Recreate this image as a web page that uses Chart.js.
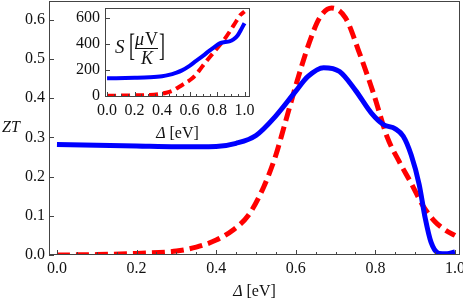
<!DOCTYPE html>
<html>
<head>
<meta charset="utf-8">
<script src="https://cdn.jsdelivr.net/npm/chart.js@4"></script>
<style>
  html, body { margin: 0; padding: 0; background: #fff; }
  #wrap { position: relative; width: 463px; height: 304px; overflow: hidden; }
  #mainChart { position: absolute; left: 0; top: 0; }
  #insetChart { position: absolute; left: 50px; top: 0; }
</style>
</head>
<body>
<div id="wrap">
  <canvas id="mainChart" width="463" height="304"></canvas>
  <canvas id="insetChart" width="205" height="145"></canvas>
</div>
<script>
// Main panel: ZT vs gap
const blueDelta = [0.00, 0.10, 0.20, 0.30, 0.40, 0.45, 0.50, 0.55, 0.60, 0.63, 0.67, 0.71, 0.75, 0.79, 0.82, 0.85, 0.87, 0.89, 0.91, 0.925, 0.94, 0.96, 0.98, 1.00];
const blueZT    = [0.282, 0.280, 0.278, 0.276, 0.277, 0.285, 0.305, 0.355, 0.418, 0.455, 0.478, 0.468, 0.420, 0.362, 0.333, 0.322, 0.303, 0.255, 0.180, 0.095, 0.032, 0.004, 0.003, 0.008];
const redDelta  = [0.00, 0.10, 0.20, 0.30, 0.35, 0.40, 0.44, 0.48, 0.52, 0.55, 0.57, 0.60, 0.635, 0.66, 0.69, 0.725, 0.76, 0.795, 0.83, 0.86, 0.89, 0.92, 0.95, 0.975, 1.00];
const redZT     = [0.000, 0.001, 0.004, 0.010, 0.020, 0.038, 0.062, 0.100, 0.175, 0.255, 0.325, 0.432, 0.545, 0.605, 0.630, 0.605, 0.515, 0.413, 0.300, 0.238, 0.183, 0.125, 0.085, 0.064, 0.050];

// Inset: Seebeck coefficient S
const insetBlueDelta = [0.00, 0.20, 0.31, 0.40, 0.45, 0.50, 0.545, 0.60, 0.64, 0.70, 0.736, 0.78, 0.82, 0.86, 0.89, 0.92, 0.95, 0.98, 1.00];
const insetBlueS     = [136, 140, 144, 152, 162, 178, 197, 232, 264, 310, 341, 375, 405, 415, 420, 435, 465, 520, 560];
const insetRedDelta  = [0.00, 0.10, 0.20, 0.31, 0.38, 0.43, 0.48, 0.52, 0.57, 0.62, 0.67, 0.71, 0.76, 0.81, 0.86, 0.90, 0.94, 0.97, 1.00];
const insetRedS      = [2, 3, 5, 8, 15, 25, 42, 67, 100, 136, 195, 251, 315, 379, 445, 508, 575, 623, 650];

// Tick labels
const mainXTicks = [0, 0.2, 0.4, 0.6, 0.8, 1.0];
const mainYTicks = [0, 0.1, 0.2, 0.3, 0.4, 0.5, 0.6];
const insetXTicks = [0, 0.2, 0.4, 0.6, 0.8, 1.0];
const insetYTicks = [0, 200, 400, 600];

const SERIF = '"Liberation Serif", "Times New Roman", serif';

function points(xs, ys) {
    return xs.map((x, i) => ({ x: x, y: ys[i] }));
}

// Frame, inward ticks and extra text
const framePlugin = {
    id: 'frame',
    beforeDraw(chart, args, opts) {
        const a = chart.chartArea;
        if (opts.fill) {
            const ctx = chart.ctx;
            ctx.save();
            ctx.fillStyle = opts.fill;
            ctx.fillRect(a.left, a.top, a.right - a.left, a.bottom - a.top);
            ctx.restore();
        }
    },
    afterDraw(chart, args, opts) {
        const { ctx, chartArea: a } = chart;
        const xs = chart.scales.x, ys = chart.scales.y;
        ctx.save();
        ctx.strokeStyle = '#444';
        ctx.lineWidth = 1;
        // minor x ticks
        if (opts.minorX) {
            for (let v = xs.min; v <= xs.max + 1e-9; v += 0.0001) {
                const k = Math.round(v / opts.minorX);
                v = k * opts.minorX;
                if (v < xs.min || v > xs.max) continue;
                const px = Math.round(xs.getPixelForValue(v)) + 0.5;
                ctx.beginPath();
                ctx.moveTo(px, a.bottom);
                ctx.lineTo(px, a.bottom - 3);
                ctx.stroke();
                v += opts.minorX - 0.0001;
            }
        }
        // major ticks
        xs.ticks.forEach(t => {
            const px = Math.round(xs.getPixelForValue(t.value)) + 0.5;
            ctx.beginPath();
            ctx.moveTo(px, a.bottom);
            ctx.lineTo(px, a.bottom - 5);
            ctx.stroke();
        });
        ys.ticks.forEach(t => {
            const py = Math.round(ys.getPixelForValue(t.value)) + 0.5;
            ctx.beginPath();
            ctx.moveTo(a.left, py);
            ctx.lineTo(a.left + 5, py);
            ctx.stroke();
        });
        ctx.strokeRect(a.left + 0.5, a.top + 0.5, a.right - a.left - 1, a.bottom - a.top - 1);
        ctx.restore();
        if (opts.text) opts.text(ctx, a);
    }
};

function drawDeltaTitle(ctx, cx, baseline) {
    ctx.save();
    ctx.fillStyle = '#111';
    ctx.textBaseline = 'alphabetic';
    ctx.textAlign = 'left';
    ctx.font = 'italic 16px ' + SERIF;
    const d = 'Δ';
    const dw = ctx.measureText(d).width;
    ctx.font = '16px ' + SERIF;
    const rest = ' [eV]';
    const rw = ctx.measureText(rest).width;
    const x0 = cx - (dw + rw) / 2;
    ctx.font = 'italic 16px ' + SERIF;
    ctx.fillText(d, x0, baseline);
    ctx.font = '16px ' + SERIF;
    ctx.fillText(rest, x0 + dw, baseline);
    ctx.restore();
}

function tallBracket(ctx, ch, x, baseline) {
    ctx.save();
    ctx.font = '18px ' + SERIF;
    ctx.translate(x, baseline);
    ctx.scale(1, 1.75);
    ctx.fillText(ch, 0, 0);
    ctx.restore();
}

const tickFont = { family: SERIF, size: 16 };

// Main chart
new Chart(document.getElementById('mainChart'), {
    type: 'line',
    data: {
        datasets: [{
            data: points(blueDelta, blueZT),
            borderColor: '#0000ff',
            borderWidth: 5,
            pointRadius: 0,
            cubicInterpolationMode: 'monotone',
            fill: false
        }, {
            data: points(redDelta, redZT),
            borderColor: '#ff0000',
            borderWidth: 5,
            borderDash: [13, 6],
            borderCapStyle: 'butt',
            pointRadius: 0,
            cubicInterpolationMode: 'monotone',
            fill: false
        }]
    },
    options: {
        responsive: false,
        animation: false,
        layout: { padding: { top: 1, right: 3, left: 0, bottom: 0 } },
        plugins: {
            legend: { display: false },
            tooltip: { enabled: false },
            frame: {
                minorX: 0.05,
                text(ctx, a) {
                    ctx.save();
                    ctx.fillStyle = '#111';
                    ctx.font = 'italic 16px ' + SERIF;
                    ctx.textAlign = 'left';
                    ctx.fillText('ZT', 2, 132);
                    ctx.restore();
                    drawDeltaTitle(ctx, (a.left + a.right) / 2, 296);
                }
            }
        },
        scales: {
            x: {
                type: 'linear',
                min: -0.02,
                max: 1.0126,
                afterBuildTicks: s => { s.ticks = mainXTicks.map(v => ({ value: v })); },
                afterFit: s => { s.height = 49; s.paddingLeft = 0; s.paddingRight = 0; },
                grid: { display: false, drawTicks: false },
                border: { display: false },
                ticks: {
                    autoSkip: false, maxRotation: 0, minRotation: 0,
                    padding: 4, color: '#111', font: tickFont,
                    callback: v => v.toFixed(1)
                }
            },
            y: {
                min: 0,
                max: 0.648,
                afterBuildTicks: s => { s.ticks = mainYTicks.map(v => ({ value: v })); },
                afterFit: s => { s.width = 49; s.paddingTop = 0; s.paddingBottom = 0; },
                grid: { display: false, drawTicks: false },
                border: { display: false },
                ticks: {
                    autoSkip: false, padding: 4, color: '#111', font: tickFont,
                    callback: v => v.toFixed(1)
                }
            }
        }
    },
    plugins: [framePlugin]
});

// Inset chart
new Chart(document.getElementById('insetChart'), {
    type: 'line',
    data: {
        datasets: [{
            data: points(insetBlueDelta, insetBlueS),
            borderColor: '#0000ff',
            borderWidth: 4,
            pointRadius: 0,
            cubicInterpolationMode: 'monotone',
            fill: false
        }, {
            data: points(insetRedDelta, insetRedS),
            borderColor: '#ff0000',
            borderWidth: 4,
            borderDash: [9, 5],
            borderCapStyle: 'butt',
            pointRadius: 0,
            cubicInterpolationMode: 'monotone',
            fill: false
        }]
    },
    options: {
        responsive: false,
        animation: false,
        layout: { padding: { top: 8, right: 5, left: 0, bottom: 0 } },
        plugins: {
            legend: { display: false },
            tooltip: { enabled: false },
            frame: {
                fill: '#fff',
                minorX: 0.05,
                text(ctx, a) {
                    drawDeltaTitle(ctx, (a.left + a.right) / 2, 138);
                    ctx.save();
                    ctx.fillStyle = '#111';
                    ctx.textAlign = 'left';
                    ctx.textBaseline = 'alphabetic';
                    ctx.font = 'italic 19px ' + SERIF;
                    ctx.fillText('S', 65, 53);
                    tallBracket(ctx, '[', 79, 56);
                    ctx.font = 'italic 18px ' + SERIF;
                    ctx.fillText('μ', 85, 45);
                    ctx.font = '18px ' + SERIF;
                    ctx.fillText('V', 95, 45);
                    ctx.fillRect(85, 48, 23, 1);
                    ctx.font = 'italic 18px ' + SERIF;
                    ctx.fillText('K', 91, 64);
                    tallBracket(ctx, ']', 109, 56);
                    ctx.restore();
                }
            }
        },
        scales: {
            x: {
                type: 'linear',
                min: -0.015,
                max: 1.04,
                afterBuildTicks: s => { s.ticks = insetXTicks.map(v => ({ value: v })); },
                afterFit: s => { s.height = 48; s.paddingLeft = 0; s.paddingRight = 0; },
                grid: { display: false, drawTicks: false },
                border: { display: false },
                ticks: {
                    autoSkip: false, maxRotation: 0, minRotation: 0,
                    padding: 4, color: '#111', font: tickFont,
                    callback: v => v.toFixed(1)
                }
            },
            y: {
                min: -8,
                max: 677,
                afterBuildTicks: s => { s.ticks = insetYTicks.map(v => ({ value: v })); },
                afterFit: s => { s.width = 55; s.paddingTop = 0; s.paddingBottom = 0; },
                grid: { display: false, drawTicks: false },
                border: { display: false },
                ticks: {
                    autoSkip: false, padding: 5, color: '#111', font: tickFont,
                    callback: v => String(v)
                }
            }
        }
    },
    plugins: [framePlugin]
});
</script>
</body>
</html>
